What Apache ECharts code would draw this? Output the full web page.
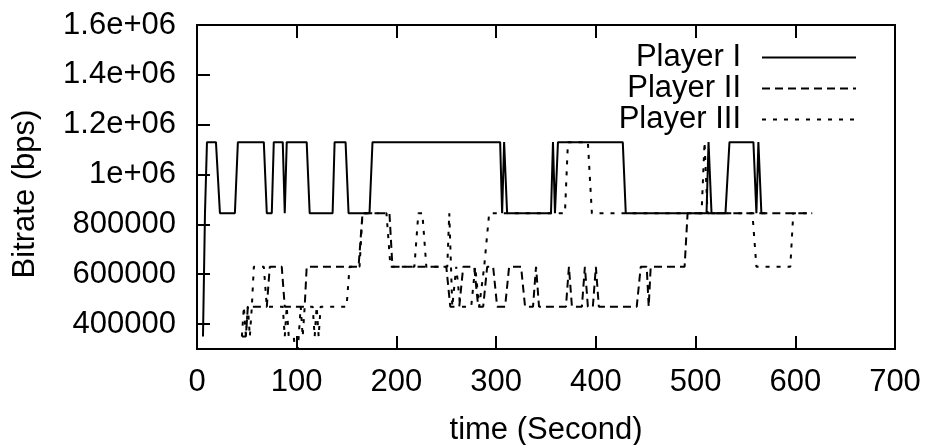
<!DOCTYPE html>
<html>
<head>
<meta charset="utf-8">
<script src="https://cdn.jsdelivr.net/npm/echarts@6/dist/echarts.min.js"></script>
<style>
html,body{margin:0;padding:0;background:#fff;}
#chart{width:928px;height:445px;}
</style>
</head>
<body>
<div id="chart"></div>
<script>
// ---- data (time in seconds, bitrate in bps) ----
const seriesNames = ['Player I', 'Player II', 'Player III'];

const player1 = [
  [6,350000],[8,845000],[10,1130000],[19,1130000],[23,845000],[38,845000],[41,1130000],
  [67,1130000],[70,845000],[75,845000],[77,1130000],[86,1130000],[88,845000],[90,1130000],
  [110,1130000],[113,845000],[136,845000],[138,1130000],[149,1130000],[152,845000],
  [173,845000],[176,1130000],[304,1130000],[306,845000],[308,1130000],[311,845000],
  [355,845000],[357,1130000],[359,845000],[362,1130000],[427,1130000],[430,845000],
  [511,845000],[513,1130000],[516,845000],[530,845000],[534,1130000],[558,1130000],
  [561,845000],[563,1130000],[566,845000],[570,845000]
];

const player2 = [
  [45,350000],[49,350000],[51,470000],[70,470000],[73,630000],[85,630000],[88,470000],
  [108,470000],[110,630000],[162,630000],[166,845000],[193,845000],[196,630000],
  [250,630000],[254,470000],[263,470000],[267,630000],[278,630000],[282,470000],
  [287,470000],[291,630000],[297,630000],[301,470000],[309,470000],[313,630000],
  [325,630000],[329,470000],[337,470000],[340,630000],[343,470000],[370,470000],
  [373,630000],[376,470000],[386,470000],[389,630000],[392,470000],[397,470000],
  [400,630000],[403,470000],[441,470000],[445,630000],[451,630000],[453,470000],
  [455,630000],[489,630000],[492,845000],[617,845000]
];

const player3 = [
  [45,350000],[47,470000],[49,350000],[51,470000],[53,350000],[55,470000],[57,630000],
  [67,630000],[70,470000],[86,470000],[88,350000],[90,470000],[92,350000],[97,350000],
  [100,230000],[102,350000],[104,470000],[106,350000],[108,470000],[116,470000],
  [118,350000],[120,470000],[122,350000],[124,470000],[150,470000],[153,630000],
  [163,630000],[166,845000],[190,845000],[194,630000],[218,630000],[222,845000],
  [226,845000],[230,630000],[251,630000],[253,845000],[256,470000],[260,630000],
  [264,470000],[275,470000],[279,630000],[283,470000],[288,630000],[293,845000],
  [369,845000],[372,1130000],[392,1130000],[396,845000],[506,845000],[509,1130000],
  [512,845000],[557,845000],[561,630000],[595,630000],[598,845000],[616,845000]
];

const xTicks = [0, 100, 200, 300, 400, 500, 600, 700];
const yTickValues = [400000, 600000, 800000, 1000000, 1200000, 1400000, 1600000];
const yTickLabels = ['400000', '600000', '800000', '1e+06', '1.2e+06', '1.4e+06', '1.6e+06'];

// ---- chart ----
const FONT = '"Liberation Sans", Arial, Helvetica, sans-serif';
const FS = 31;
const chart = echarts.init(document.getElementById('chart'), null, {renderer: 'canvas'});

const lineDefs = [
  {data: player1, dash: 'solid'},
  {data: player2, dash: [8, 5]},
  {data: player3, dash: [4, 7]}
];

chart.setOption({
  animation: false,
  backgroundColor: '#fff',
  grid: {left: 197, right: 33, top: 25, bottom: 96, containLabel: false, outerBoundsMode: 'none',
         show: true, borderColor: '#000', borderWidth: 2, backgroundColor: 'transparent'},
  legend: {
    orient: 'vertical',
    right: 66,
    top: 37,
    align: 'right',
    itemWidth: 94,
    itemHeight: 14,
    itemGap: 0,
    data: seriesNames,
    itemStyle: {color: 'rgba(0,0,0,0)', borderWidth: 0, opacity: 0},
    textStyle: {fontFamily: FONT, fontSize: FS, color: '#000', padding: [0, 16, 0, 0]},
    selectedMode: false
  },
  xAxis: [{
    type: 'value', min: xTicks[0], max: xTicks[xTicks.length - 1], interval: 100,
    name: 'time (Second)', nameLocation: 'middle', nameGap: 66,
    nameTextStyle: {fontFamily: FONT, fontSize: FS, color: '#000'},
    axisLine: {show: true, lineStyle: {color: '#000', width: 2}},
    axisTick: {show: true, inside: true, length: 13, lineStyle: {color: '#000', width: 2}},
    axisLabel: {fontFamily: FONT, fontSize: FS, color: '#000', margin: 18},
    splitLine: {show: false}
  }, {
    type: 'value', position: 'top', min: xTicks[0], max: xTicks[xTicks.length - 1], interval: 100,
    axisLine: {show: false},
    axisTick: {show: true, inside: true, length: 13, lineStyle: {color: '#000', width: 2}},
    axisLabel: {show: false},
    splitLine: {show: false}
  }],
  yAxis: {
    type: 'value', min: 300000, max: 1600000,
    name: 'Bitrate (bps)', nameLocation: 'middle', nameGap: 156,
    nameTextStyle: {fontFamily: FONT, fontSize: FS, color: '#000', padding: [0, 14, 0, 0]},
    axisLine: {show: true, lineStyle: {color: '#000', width: 2}},
    axisTick: {show: true, inside: true, length: 13, customValues: yTickValues, lineStyle: {color: '#000', width: 2}},
    axisLabel: {
      fontFamily: FONT, fontSize: FS, color: '#000', margin: 21,
      customValues: yTickValues,
      formatter: function (v) {
        const i = yTickValues.indexOf(v);
        return i >= 0 ? yTickLabels[i] : '';
      }
    },
    splitLine: {show: false}
  },
  series: lineDefs.map(function (d, i) {
    return {
      name: seriesNames[i],
      type: 'line',
      xAxisIndex: 0,
      data: d.data,
      symbol: 'none',
      showSymbol: false,
      clip: true,
      lineStyle: {color: '#000', width: 2, type: d.dash},
      itemStyle: {color: '#000'},
      emphasis: {disabled: true}
    };
  })
});
</script>
</body>
</html>
